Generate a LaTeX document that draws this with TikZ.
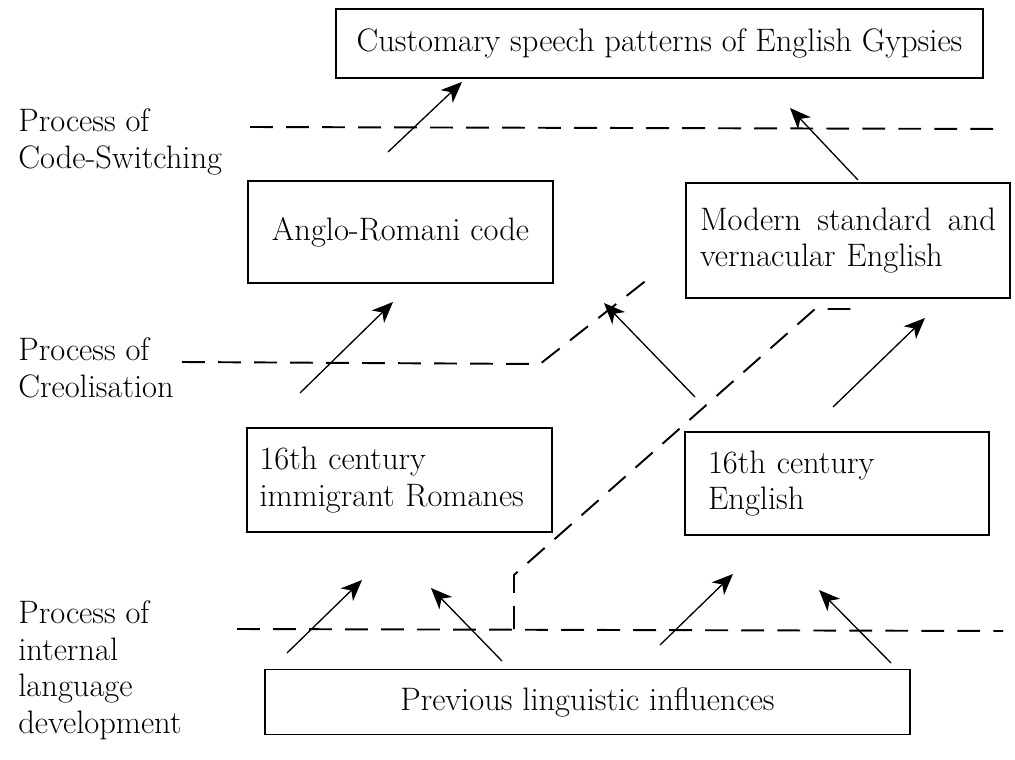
\documentclass[tikz,border=0pt]{standalone}
\usetikzlibrary{arrows.meta}

\tikzset{
  every node/.style={font=\fontsize{18.5}{21}\selectfont},
  box/.style={draw, line width=0.8pt, inner sep=0pt},
  leftbox/.style={box, align=left},
  proclabel/.style={anchor=north west, align=left, inner sep=0pt},
  procline/.style={line width=1.1pt, dash pattern=on 13pt off 7.5pt},
  flow/.style={line width=0.75pt, -{Stealth[length=12pt, width=10pt, inset=3.5pt]}}
}

\begin{document}
\begin{tikzpicture}[x=0.02cm, y=-0.02cm]
% Fix the page to the size of the reference
\useasboundingbox (0,0) rectangle (1015,760);

% Boxes
\node[box, minimum width=12.94cm, minimum height=1.38cm] (gypsies) at (659.5,43.5) {Customary speech patterns of English Gypsies};
\node[box, minimum width=6.1cm, minimum height=2.04cm] (anglo) at (400.5,232) {Anglo-Romani code};
\node[leftbox, text width=5.92cm, inner xsep=0.28cm, minimum height=2.3cm] (modern) at (848,240.5) {Modern\hfill standard\hfill and\\ vernacular English};
\node[leftbox, text width=5.6cm, inner xsep=0.25cm, minimum height=2.08cm] (romanes) at (399.5,480) {16th century\\ immigrant Romanes};
\node[leftbox, text width=5.16cm, inner xsep=0.46cm, minimum height=2.06cm] (english) at (837,483.5) {16th century\\ English};
\node[box, minimum width=12.9cm, minimum height=1.3cm] (previous) at (587.5,702) {Previous linguistic influences};

% Process labels
\node[proclabel] (switching) at (18,108) {Process of\\ Code-Switching};
\node[proclabel] (creolisation) at (18,337) {Process of\\ Creolisation};
\node[proclabel] (internal) at (18,600) {Process of\\ internal\\ language\\ development};

% Ends of the process lines
\coordinate (cs1) at (250,127);
\coordinate (cs2) at (1003,129);
\coordinate (cr1) at (182,362);
\coordinate (cr2) at (540,364);
\coordinate (cr3) at (648,279);
\coordinate (il1) at (237,629);
\coordinate (il2) at (1003,631);
\coordinate (br1) at (514,629);
\coordinate (br2) at (514,575);
\coordinate (br3) at (815,309);
\coordinate (br4) at (858,309);

\draw[procline] (cs1) -- (cs2);
\draw[procline] (cr1) -- (cr2) -- (cr3);
\draw[procline] (il1) -- (il2);
\draw[procline] (br1) -- (br2) -- (br3) -- (br4);

% Ends of the arrows
\coordinate (a1) at (388,152);  \coordinate (b1) at (462,82);
\coordinate (a2) at (858,180);  \coordinate (b2) at (790,108);
\coordinate (a3) at (300,393);  \coordinate (b3) at (393,302);
\coordinate (a4) at (695,397);  \coordinate (b4) at (604,303);
\coordinate (a5) at (833,407);  \coordinate (b5) at (925,318);
\coordinate (a6) at (287,653);  \coordinate (b6) at (362,580);
\coordinate (a7) at (502,661);  \coordinate (b7) at (431,588);
\coordinate (a8) at (660,645);  \coordinate (b8) at (733,574);
\coordinate (a9) at (891,663);  \coordinate (b9) at (819,590);

\draw[flow] (a1) -- (b1);
\draw[flow] (a2) -- (b2);
\draw[flow] (a3) -- (b3);
\draw[flow] (a4) -- (b4);
\draw[flow] (a5) -- (b5);
\draw[flow] (a6) -- (b6);
\draw[flow] (a7) -- (b7);
\draw[flow] (a8) -- (b8);
\draw[flow] (a9) -- (b9);
\end{tikzpicture}
\end{document}
